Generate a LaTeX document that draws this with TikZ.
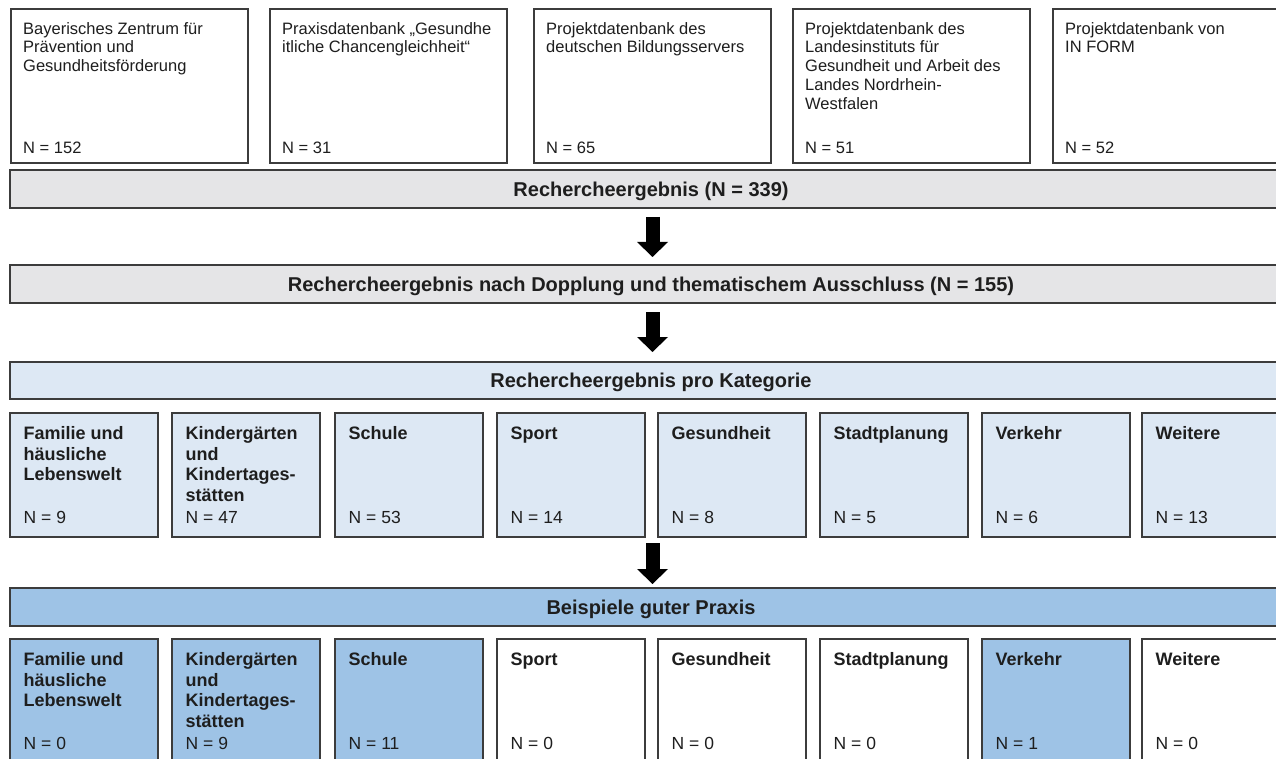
\documentclass[tikz,border=0pt]{standalone}
\usepackage{fontspec}
\setmainfont{Liberation Sans}
\usetikzlibrary{arrows.meta,calc}
\definecolor{bordc}{HTML}{3C3C3C}
\definecolor{grayfill}{HTML}{E5E5E7}
\definecolor{lblue}{HTML}{DDE8F4}
\definecolor{mblue}{HTML}{9EC3E6}
\definecolor{txtc}{HTML}{1E1E1E}
\begin{document}
\begin{tikzpicture}[x=1pt,y=-1pt,
  box/.style={draw=bordc,line width=1.8pt,anchor=north west,inner sep=0pt,outer sep=0pt},
  srcbox/.style={box,fill=white,minimum width=237pt,minimum height=154pt},
  catbox/.style={box,minimum width=148pt,minimum height=124pt},
  bar/.style={box,minimum width=1282pt,minimum height=38pt,text=txtc,
    font=\fontsize{20}{24}\selectfont\bfseries,text height=14.3pt,text depth=0pt},
  srctext/.style={anchor=north west,inner sep=0pt,align=left,text=txtc,
    font=\fontsize{16.5}{18.8}\selectfont},
  srcn/.style={anchor=base west,inner sep=0pt,text=txtc,font=\fontsize{16.5}{18.8}\selectfont},
  cattext/.style={anchor=north west,inner sep=0pt,align=left,text=txtc,
    font=\fontsize{18}{20.5}\selectfont\bfseries},
  catn/.style={anchor=base west,inner sep=0pt,text=txtc,font=\fontsize{17.5}{20.5}\selectfont},
  bigarrow/.style={draw=black,line width=14pt,-{Triangle[width=31pt,length=15pt,line width=0pt]}}
]
\useasboundingbox (0,0) rectangle (1276,759);
\clip (0,0) rectangle (1276,759);
\fill[white] (0,0) rectangle (1276,759);

% source boxes
\node[srcbox] (s1) at (11,9) {};
\node[srcbox] (s2) at (270,9) {};
\node[srcbox] (s3) at (534,9) {};
\node[srcbox] (s4) at (793,9) {};
\node[srcbox] (s5) at (1053,9) {};
\node[srctext] (s1t) at ($(s1.north west)+(12,11.8)$) {\strut Bayerisches Zentrum für\\Prävention und\\Gesundheitsförderung};
\node[srctext] (s2t) at ($(s2.north west)+(12,11.8)$) {\strut Praxisdatenbank „Gesundhe\\itliche Chancengleichheit“};
\node[srctext] (s3t) at ($(s3.north west)+(12,11.8)$) {\strut Projektdatenbank des\\deutschen Bildungsservers};
\node[srctext] (s4t) at ($(s4.north west)+(12,11.8)$) {\strut Projektdatenbank des\\Landesinstituts für\\Gesundheit und Arbeit des\\Landes Nordrhein-\\Westfalen};
\node[srctext] (s5t) at ($(s5.north west)+(12,11.8)$) {\strut Projektdatenbank von\\IN FORM};
\node[srcn] (s1n) at ($(s1.south west)+(12,-9.7)$) {N = 152};
\node[srcn] (s2n) at ($(s2.south west)+(12,-9.7)$) {N = 31};
\node[srcn] (s3n) at ($(s3.south west)+(12,-9.7)$) {N = 65};
\node[srcn] (s4n) at ($(s4.south west)+(12,-9.7)$) {N = 51};
\node[srcn] (s5n) at ($(s5.south west)+(12,-9.7)$) {N = 52};

% bars
\node[bar,fill=grayfill] (b1) at (10,170) {Rechercheergebnis (N = 339)};
\node[bar,fill=grayfill] (b2) at (10,265) {Rechercheergebnis nach Dopplung und thematischem Ausschluss (N = 155)};
\node[bar,fill=lblue,minimum height=37pt] (b3) at (10,362) {Rechercheergebnis pro Kategorie};
\node[bar,fill=mblue] (b4) at (10,588) {Beispiele guter Praxis};

% category row
\foreach \i/\x/\t/\n in {1/10/{Familie und\\häusliche\\Lebenswelt}/9,
  2/172/{Kindergärten\\und\\Kindertages-\\stätten}/47,
  3/335/{Schule}/53, 4/497/{Sport}/14, 5/658/{Gesundheit}/8,
  6/820/{Stadtplanung}/5, 7/982/{Verkehr}/6, 8/1142/{Weitere}/13}{
  \node[catbox,fill=lblue] (c\i) at (\x,413) {};
  \node[cattext] (c\i t) at ($(c\i.north west)+(13.5,12.2)$) {\strut\t};
  \node[catn] (c\i n) at ($(c\i.south west)+(13.5,-13.5)$) {N = \n};
}

% good practice row
\foreach \i/\x/\t/\n/\f in {1/10/{Familie und\\häusliche\\Lebenswelt}/0/mblue,
  2/172/{Kindergärten\\und\\Kindertages-\\stätten}/9/mblue,
  3/335/{Schule}/11/mblue, 4/497/{Sport}/0/white, 5/658/{Gesundheit}/0/white,
  6/820/{Stadtplanung}/0/white, 7/982/{Verkehr}/1/mblue, 8/1142/{Weitere}/0/white}{
  \node[catbox,fill=\f] (g\i) at (\x,639) {};
  \node[cattext] (g\i t) at ($(g\i.north west)+(13.5,12.2)$) {\strut\t};
  \node[catn] (g\i n) at ($(g\i.south west)+(13.5,-13.5)$) {N = \n};
}

% arrows
\coordinate (a3s) at (652.5,543);
\draw[bigarrow] ($(b1.south)+(1.5,9)$) -- ($(b2.north)+(1.5,-8)$);
\draw[bigarrow] ($(b2.south)+(1.5,9)$) -- ($(b3.north)+(1.5,-10)$);
\draw[bigarrow] (a3s) -- ($(b4.north)+(1.5,-4)$);
\end{tikzpicture}
\end{document}
